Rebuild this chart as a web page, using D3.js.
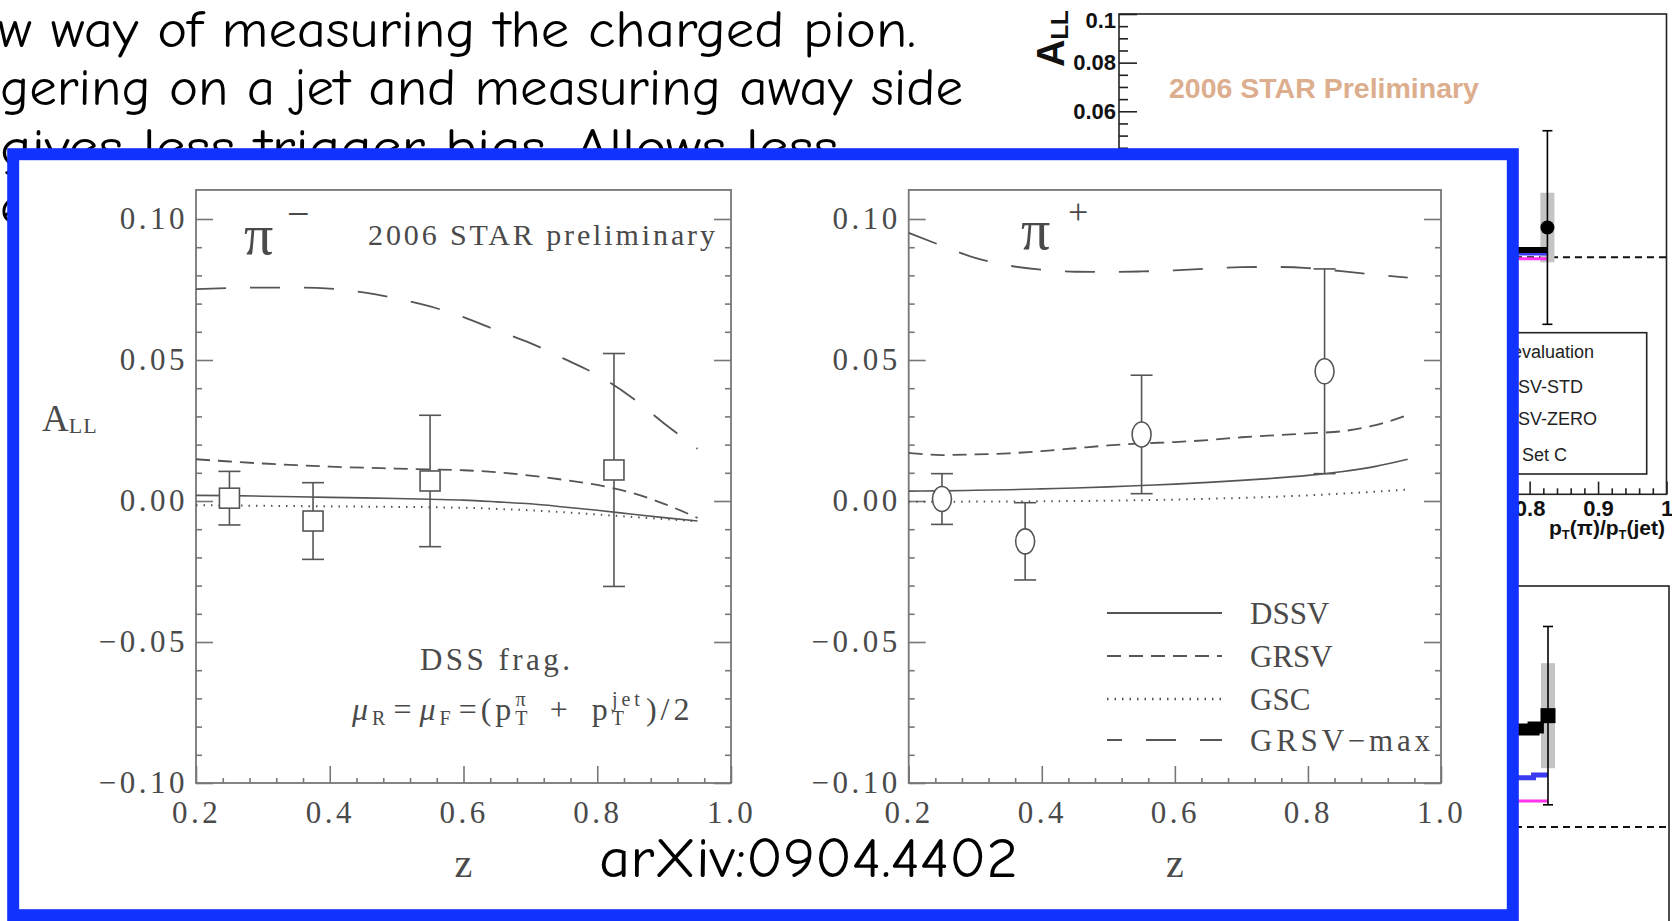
<!DOCTYPE html>
<html>
<head>
<meta charset="UTF-8">
<title>A_LL charged pions</title>
<script src="https://d3js.org/d3.v7.min.js"></script>
<style>html,body{margin:0;padding:0;background:#fff;} svg{display:block;}</style>
</head>
<body>
<div id="container"></div>
<script>
const W = 1672, H = 921;

// slide text behind the inset
const slideLines = ["w way of measuring the charged pion.", "gering on a jet and measuring away side", "gives less trigger bias. Allows less", "e"];

// theory curves (A_LL vs z)
const curveZ = [0.2, 0.25, 0.3, 0.35, 0.4, 0.45, 0.5, 0.55, 0.6, 0.65, 0.7, 0.75, 0.8, 0.85, 0.9, 0.95];
const dssvMinus = [0.0020, 0.0019, 0.0017, 0.0015, 0.0013, 0.0011, 0.0009, 0.0006, 0.0003, -0.0003, -0.0010, -0.0021, -0.0033, -0.0046, -0.0059, -0.0071];
const grsvMinus = [0.0148, 0.0140, 0.0133, 0.0127, 0.0122, 0.0118, 0.0115, 0.0112, 0.0109, 0.0102, 0.0090, 0.0075, 0.0057, 0.0030, -0.0010, -0.0060];
const gscMinus = [-0.0015, -0.0016, -0.0017, -0.0018, -0.0019, -0.0020, -0.0021, -0.0022, -0.0024, -0.0028, -0.0033, -0.0040, -0.0048, -0.0056, -0.0064, -0.0072];
const maxMinus = [0.0751, 0.0755, 0.0757, 0.0757, 0.0753, 0.0740, 0.0718, 0.0690, 0.0652, 0.0605, 0.0560, 0.0505, 0.0447, 0.0370, 0.0275, 0.0185];
const dssvPlus = [0.0035, 0.0036, 0.0038, 0.0040, 0.0043, 0.0046, 0.0050, 0.0055, 0.0060, 0.0066, 0.0073, 0.0081, 0.0091, 0.0104, 0.0122, 0.0148];
const grsvPlus = [0.0171, 0.0163, 0.0165, 0.0169, 0.0177, 0.0187, 0.0197, 0.0204, 0.0209, 0.0216, 0.0226, 0.0233, 0.0240, 0.0247, 0.0268, 0.0305];
const gscPlus = [-0.0003, -0.0003, -0.0002, -0.0002, -0.0001, 0.0000, 0.0001, 0.0003, 0.0005, 0.0008, 0.0011, 0.0015, 0.0020, 0.0026, 0.0033, 0.0041];
const maxPlus = [0.0951, 0.0905, 0.0862, 0.0835, 0.0820, 0.0813, 0.0812, 0.0814, 0.0818, 0.0824, 0.0829, 0.0830, 0.0826, 0.0815, 0.0803, 0.0792];

// STAR data points
const pointZ = [0.25, 0.375, 0.55, 0.825];
const minusA = [0.0010, -0.0071, 0.0071, 0.0110];
const minusErr = [0.0095, 0.0136, 0.0233, 0.0413];
const plusA = [0.0007, -0.0143, 0.0236, 0.0460];
const plusErr = [0.0090, 0.0137, 0.0210, 0.0363];

const yTicks = [-0.1, -0.05, 0, 0.05, 0.1];
const xTicks = [0.2, 0.4, 0.6, 0.8, 1.0];
const legendLabels = ["DSSV", "GRSV", "GSC", "GRSV\u2212max"];

// background STAR plot (mostly hidden)
const bgXTicks = [0.2, 0.3, 0.4, 0.5, 0.6, 0.7, 0.8, 0.9, 1.0];
const bgYTicks = [0, 0.02, 0.04, 0.06, 0.08, 0.1];
const bgLegend = ["GRSV-STD", "GRSV-ZERO", "GS Set C"];
const bgTopPoint = {z: 0.826, a: 0.0122, stat: 0.0398, sys: 0.0143};
const bgTopBlack = [[0.70, 0.0030], [0.826, 0.0030]];
const bgTopBlue = [[0.70, 0.0013], [0.826, 0.0013]];
const bgTopPink = [[0.70, -0.0006], [0.826, -0.0006]];
const bgBotPoint = {z: 0.824, a: 0.0462, stat: 0.0370, sys: 0.0218};
const bgBotBlack = [[0.70, 0.0405], [0.803, 0.0413], [0.818, 0.0413]];
const bgBotBlue = [[0.70, 0.0204], [0.803, 0.0216], [0.824, 0.0216]];
const bgBotPink = [[0.70, 0.0108], [0.824, 0.0108]];

const serif = "'Liberation Serif','Times New Roman',serif";
const sans = "'Liberation Sans',Arial,sans-serif";
const comic = "'Comic Sans MS','Comic Neue',Lato,sans-serif";
const ink = "#4a4a4a", frameCol = "#777";

const svg = d3.select("#container").append("svg")
  .attr("width", W).attr("height", H)
  .style("background", "#fff");

// ---------- slide text ----------
const slideY = [47, 105, 165, 224];
const slideLen = [918, 963, 838, 0];
svg.selectAll("text.slide").data(slideLines).join("text")
  .attr("class", "slide")
  .attr("x", (d, i) => i == 0 ? -2 : 0)
  .attr("y", (d, i) => slideY[i])
  .attr("font-family", comic).attr("font-size", 52).attr("fill", "#000")
  .each(function (d, i) {
    if (slideLen[i]) d3.select(this).attr("textLength", slideLen[i]).attr("lengthAdjust", "spacingAndGlyphs");
  })
  .text(d => d);

// ---------- background STAR plot ----------
const bg = svg.append("g");
const bx = d3.scaleLinear().domain([0.2, 1.0]).range([1119, 1666.5]);
const byT = d3.scaleLinear().domain([-0.0975, 0.1]).range([494.3, 14]);
const bx2 = d3.scaleLinear().domain([0.2, 1.0]).range([1119, 1669]);
const byB = d3.scaleLinear().domain([0, 0.1]).range([827, 586]);

bg.append("rect").attr("x", bx(0.2)).attr("y", byT(0.1))
  .attr("width", bx(1) - bx(0.2)).attr("height", byT(-0.0975) - byT(0.1))
  .attr("fill", "none").attr("stroke", "#222").attr("stroke-width", 1.6);
bg.append("rect").attr("x", bx2(0.2)).attr("y", byB(0.1))
  .attr("width", bx2(1) - bx2(0.2)).attr("height", 400)
  .attr("fill", "none").attr("stroke", "#222").attr("stroke-width", 1.6);

function styleBgAxis(g) {
  g.select(".domain").remove();
  g.selectAll(".tick line").attr("stroke", "#222").attr("stroke-width", 1.6);
  g.selectAll("text").attr("font-family", sans).attr("font-weight", "bold").attr("font-size", 22).attr("fill", "#111");
}
bg.append("g").attr("transform", `translate(0,${byT(-0.0975)})`)
  .call(d3.axisBottom(bx).tickValues(d3.range(0.22, 1.0, 0.02).filter(v => Math.abs(v * 10 - Math.round(v * 10)) > 0.05)).tickSize(-6).tickFormat(""))
  .call(styleBgAxis);
bg.append("g").attr("transform", `translate(0,${byT(-0.0975)})`)
  .call(d3.axisBottom(bx).tickValues(bgXTicks).tickSize(-12.7).tickPadding(6).tickFormat(d3.format("~g")))
  .call(styleBgAxis);
bg.append("g").attr("transform", `translate(${bx(0.2)},0)`)
  .call(d3.axisLeft(byT).tickValues(d3.range(-0.095, 0.1, 0.005).filter(v => Math.abs(v * 50 - Math.round(v * 50)) > 0.05)).tickSize(-9).tickFormat(""))
  .call(styleBgAxis);
bg.append("g").attr("transform", `translate(${bx(0.2)},0)`)
  .call(d3.axisLeft(byT).tickValues(bgYTicks).tickSize(-18).tickPadding(3).tickFormat(d3.format("~g")))
  .call(styleBgAxis)
  .call(g => g.selectAll("text").filter(d => d === 0.1).attr("dy", "0.6em"));

// y title
const al = bg.append("text").attr("transform", "translate(1064,67) rotate(-90)")
  .attr("font-family", sans).attr("font-weight", "bold").attr("font-size", 38).attr("fill", "#111");
al.append("tspan").text("A");
al.append("tspan").attr("font-size", 24).attr("dy", 4).text("LL");

// x title
const xt = bg.append("text").attr("x", 1665).attr("y", 535).attr("text-anchor", "end")
  .attr("font-family", sans).attr("font-weight", "bold").attr("font-size", 21).attr("fill", "#111");
xt.append("tspan").text("p");
xt.append("tspan").attr("font-size", 13).attr("dy", 4).text("T");
xt.append("tspan").attr("dy", -4).text("(\u03c0)/p");
xt.append("tspan").attr("font-size", 13).attr("dy", 4).text("T");
xt.append("tspan").attr("dy", -4).text("(jet)");

bg.append("text").attr("x", 1169).attr("y", 98)
  .attr("font-family", sans).attr("font-weight", "bold").attr("font-size", 28.5)
  .attr("fill", "#dcae8e").text("2006 STAR Preliminary");

// legend box
bg.append("rect").attr("x", 1470).attr("y", 332.7).attr("width", 176.7).attr("height", 141.3)
  .attr("fill", "#fff").attr("stroke", "#222").attr("stroke-width", 1.6);
bg.append("text").attr("x", 1594).attr("y", 358).attr("text-anchor", "end")
  .attr("font-family", sans).attr("font-size", 18).attr("fill", "#222").text("evaluation");
const bgLegY = [393, 425, 461];
bg.selectAll("text.bgleg").data(bgLegend).join("text").attr("class", "bgleg")
  .attr("x", 1491).attr("y", (d, i) => bgLegY[i])
  .attr("font-family", sans).attr("font-size", 18).attr("fill", "#222").text(d => d);

const bline = (sx, sy) => d3.line().x(d => sx(d[0])).y(d => sy(d[1])).curve(d3.curveStepAfter);

function bgPanel(sx, sy, p, black, blue, pink, marker) {
  bg.append("line").attr("x1", sx(0.2)).attr("x2", sx(1.0)).attr("y1", sy(0)).attr("y2", sy(0))
    .attr("stroke", "#111").attr("stroke-width", 2).attr("stroke-dasharray", "7,5");
  bg.append("rect").attr("x", sx(p.z) - 7).attr("width", 14)
    .attr("y", sy(p.a + p.sys)).attr("height", sy(p.a - p.sys) - sy(p.a + p.sys)).attr("fill", "#c4c4c4");
  bg.append("path").attr("d", bline(sx, sy)(pink)).attr("fill", "none").attr("stroke", "#ff33ee").attr("stroke-width", 3);
  bg.append("path").attr("d", bline(sx, sy)(blue)).attr("fill", "none").attr("stroke", "#3a3af0").attr("stroke-width", marker == "square" ? 5 : 3);
  bg.append("path").attr("d", bline(sx, sy)(black)).attr("fill", "none").attr("stroke", "#000").attr("stroke-width", marker == "square" ? 12 : 6);
  const px = sx(p.z);
  bg.append("line").attr("x1", px).attr("x2", px).attr("y1", sy(p.a + p.stat)).attr("y2", sy(p.a - p.stat)).attr("stroke", "#000").attr("stroke-width", 1.6);
  [p.a + p.stat, p.a - p.stat].forEach(v => bg.append("line").attr("x1", px - 5).attr("x2", px + 5)
    .attr("y1", sy(v)).attr("y2", sy(v)).attr("stroke", "#000").attr("stroke-width", 1.6));
  if (marker == "square") {
    bg.append("rect").attr("x", px - 7.5).attr("y", sy(p.a) - 7.5).attr("width", 15).attr("height", 15).attr("fill", "#000");
  } else {
    bg.append("circle").attr("cx", px).attr("cy", sy(p.a)).attr("r", 7).attr("fill", "#000");
  }
}
bgPanel(bx, byT, bgTopPoint, bgTopBlack, bgTopBlue, bgTopPink, "circle");
bgPanel(bx2, byB, bgBotPoint, bgBotBlack, bgBotBlue, bgBotPink, "square");

// ---------- inset with the two panels ----------
svg.append("rect").attr("x", 13.2).attr("y", 154.2).attr("width", 1499.6).attr("height", 761)
  .attr("fill", "#fff").attr("stroke", "#1232ff").attr("stroke-width", 12);

const y = d3.scaleLinear().domain([-0.1, 0.1]).range([783, 219]);
const yTop = 0.1103;

function styleAxis(g) {
  g.select(".domain").remove();
  g.selectAll(".tick line").attr("stroke", frameCol).attr("stroke-width", 1.6);
  g.selectAll("text").attr("font-family", serif).attr("font-size", 31)
    .attr("letter-spacing", 3.5).attr("fill", ink);
}

function panel(x0, x1, curves, A, E, marker) {
  const x = d3.scaleLinear().domain([0.2, 1.0]).range([x0, x1]);
  const g = svg.append("g");
  g.append("rect").attr("x", x(0.2)).attr("y", y(yTop)).attr("width", x(1) - x(0.2))
    .attr("height", y(-0.1) - y(yTop)).attr("fill", "none").attr("stroke", frameCol).attr("stroke-width", 1.8);

  const yMinor = d3.range(-0.09, 0.105, 0.01).filter(v => Math.abs(v * 20 - Math.round(v * 20)) > 0.05);
  const xMinor = d3.range(0.24, 1.0, 0.04).filter(v => Math.abs(v * 5 - Math.round(v * 5)) > 0.05);
  g.append("g").attr("transform", `translate(${x(0.2)},0)`)
    .call(d3.axisLeft(y).tickValues(yMinor).tickSize(-6).tickFormat("")).call(styleAxis);
  g.append("g").attr("transform", `translate(${x(1)},0)`)
    .call(d3.axisRight(y).tickValues(yMinor).tickSize(-6).tickFormat("")).call(styleAxis);
  g.append("g").attr("transform", `translate(${x(0.2)},0)`)
    .call(d3.axisLeft(y).tickValues(yTicks).tickSize(-17).tickPadding(8).tickFormat(d3.format(".2f"))).call(styleAxis);
  g.append("g").attr("transform", `translate(${x(1)},0)`)
    .call(d3.axisRight(y).tickValues(yTicks).tickSize(-17).tickFormat("")).call(styleAxis);
  g.append("g").attr("transform", `translate(0,${y(-0.1)})`)
    .call(d3.axisBottom(x).tickValues(xMinor).tickSize(-5).tickFormat("")).call(styleAxis);
  g.append("g").attr("transform", `translate(0,${y(-0.1)})`)
    .call(d3.axisBottom(x).tickValues(xTicks).tickSize(-17).tickPadding(18).tickFormat(d3.format(".1f"))).call(styleAxis);

  const line = d3.line().x((d, i) => x(curveZ[i])).y(d => y(d)).curve(d3.curveMonotoneX);
  curves.forEach(c => g.append("path").attr("d", line(c.v)).attr("fill", "none")
    .attr("stroke", "#555").attr("stroke-width", c.w).attr("stroke-dasharray", c.dash));

  pointZ.forEach((z, i) => {
    const px = x(z);
    g.append("line").attr("x1", px).attr("x2", px).attr("y1", y(A[i] + E[i])).attr("y2", y(A[i] - E[i]))
      .attr("stroke", "#555").attr("stroke-width", 1.6);
    [A[i] + E[i], A[i] - E[i]].forEach(v => g.append("line").attr("x1", px - 11).attr("x2", px + 11)
      .attr("y1", y(v)).attr("y2", y(v)).attr("stroke", "#555").attr("stroke-width", 1.6));
    if (marker == "square") {
      g.append("rect").attr("x", px - 10).attr("y", y(A[i]) - 10).attr("width", 20).attr("height", 20)
        .attr("fill", "#fff").attr("stroke", "#555").attr("stroke-width", 1.6);
    } else {
      g.append("ellipse").attr("cx", px).attr("cy", y(A[i])).attr("rx", 9.5).attr("ry", 12.5)
        .attr("fill", "#fff").attr("stroke", "#555").attr("stroke-width", 1.6);
    }
  });

  g.append("text").attr("x", (x(0.2) + x(1)) / 2).attr("y", 877).attr("text-anchor", "middle")
    .attr("font-family", serif).attr("font-size", 40).attr("fill", ink).text("z");
  return {g, x};
}

const styles = [{w: 1.6, dash: null}, {w: 1.8, dash: "14,8"}, {w: 2, dash: "1.5,6"}, {w: 1.8, dash: "30,24"}];
const L = panel(196, 731, [dssvMinus, grsvMinus, gscMinus, maxMinus].map((v, i) => Object.assign({v}, styles[i])), minusA, minusErr, "square");
const R = panel(908.7, 1441, [dssvPlus, grsvPlus, gscPlus, maxPlus].map((v, i) => Object.assign({v}, styles[i])), plusA, plusErr, "circle");

// left panel annotations
L.g.append("text").attr("x", 244).attr("y", 254).attr("font-family", serif).attr("font-size", 58).attr("fill", ink).text("\u03c0");
L.g.append("text").attr("x", 287).attr("y", 227).attr("font-family", serif).attr("font-size", 40).attr("fill", ink).text("\u2212");
L.g.append("text").attr("x", 368).attr("y", 245).attr("font-family", serif).attr("font-size", 30).attr("fill", ink)
  .attr("textLength", 347).attr("lengthAdjust", "spacing").text("2006 STAR preliminary");
L.g.append("text").attr("x", 420).attr("y", 670).attr("font-family", serif).attr("font-size", 31).attr("fill", ink)
  .attr("textLength", 150).attr("lengthAdjust", "spacing").text("DSS frag.");
const yl = L.g.append("text").attr("x", 42).attr("y", 431).attr("font-family", serif).attr("font-size", 37).attr("fill", ink);
yl.append("tspan").text("A");
yl.append("tspan").attr("font-size", 22).attr("dy", 2).attr("letter-spacing", 1).text("LL");

const f = L.g.append("text").attr("x", 352).attr("y", 720).attr("font-family", serif)
  .attr("font-size", 32).attr("letter-spacing", 4).attr("fill", ink);
f.append("tspan").attr("font-style", "italic").text("\u03bc");
f.append("tspan").attr("font-size", 20).attr("dy", 5).text("R");
f.append("tspan").attr("dy", -5).attr("dx", 4).text("=");
f.append("tspan").attr("font-style", "italic").attr("dx", 4).text("\u03bc");
f.append("tspan").attr("font-size", 20).attr("dy", 5).text("F");
f.append("tspan").attr("dy", -5).attr("dx", 4).text("=(p");
f.append("tspan").attr("font-size", 20).attr("dy", 5).text("T");
f.append("tspan").attr("font-size", 20).attr("dy", -19).attr("dx", -16).text("\u03c0");
f.append("tspan").attr("dy", 14).attr("dx", 20).text("+");
f.append("tspan").attr("dx", 20).text("p");
f.append("tspan").attr("font-size", 20).attr("dy", 5).text("T");
f.append("tspan").attr("font-size", 20).attr("dy", -19).attr("dx", -16).text("jet");
f.append("tspan").attr("dy", 14).attr("dx", 2).text(")/2");

// right panel annotations
R.g.append("text").attr("x", 1021).attr("y", 249).attr("font-family", serif).attr("font-size", 58).attr("fill", ink).text("\u03c0");
R.g.append("text").attr("x", 1068).attr("y", 224).attr("font-family", serif).attr("font-size", 36).attr("fill", ink).text("+");

const legY = [613, 656, 699, 740];
legendLabels.forEach((lab, i) => {
  R.g.append("line").attr("x1", 1107).attr("x2", 1222).attr("y1", legY[i]).attr("y2", legY[i])
    .attr("stroke", "#555").attr("stroke-width", styles[i].w + 0.4)
    .attr("stroke-dasharray", styles[i].dash).attr("stroke-dashoffset", i == 3 ? 15 : 0);
  const t = R.g.append("text").attr("x", 1250).attr("y", legY[i] + 11).attr("font-family", serif)
    .attr("font-size", 31).attr("fill", ink).text(lab);
  if (i == 3) t.attr("textLength", 180).attr("lengthAdjust", "spacing");
});

// citation
svg.append("text").attr("x", 599).attr("y", 877).attr("font-family", comic).attr("font-size", 56)
  .attr("fill", "#000").attr("textLength", 419).attr("lengthAdjust", "spacingAndGlyphs").text("arXiv:0904.4402");
</script>
</body>
</html>
